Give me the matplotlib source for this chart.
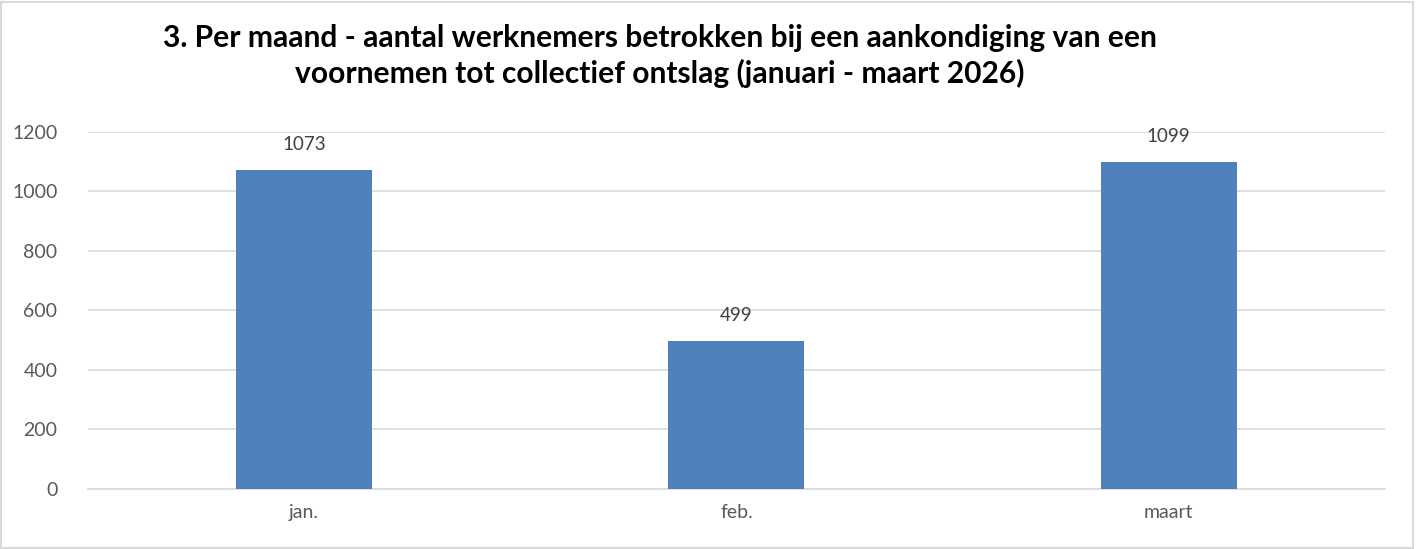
import matplotlib.pyplot as plt
from matplotlib.patches import Rectangle

# data
maanden = ["jan.", "feb.", "maart"]
aantallen = [1073, 499, 1099]
y_ticks = [0, 200, 400, 600, 800, 1000, 1200]

plt.rcParams["font.family"] = ["Lato", "DejaVu Sans"]

fig = plt.figure(figsize=(14.16, 5.49), dpi=100)
ax = fig.add_axes([0.0621, 0.1093, 0.9159, 0.6503])

x = range(len(maanden))
bars = ax.bar(x, aantallen, width=0.315, color="#4F81BD", zorder=3)

for rect, val in zip(bars, aantallen):
    ax.annotate(str(val), (rect.get_x() + rect.get_width() / 2, val),
                xytext=(0, 12), textcoords="offset points",
                ha="center", va="bottom", fontsize=13.5, color="#404040")

ax.set_xlim(-0.5, len(maanden) - 0.5)
ax.set_ylim(0, 1200)
ax.set_yticks(y_ticks)
ax.set_xticks(list(x))
ax.set_xticklabels(maanden)
ax.tick_params(axis="both", length=0, labelsize=14, labelcolor="#595959")
ax.tick_params(axis="y", pad=22)
ax.tick_params(axis="x", pad=11)
ax.grid(axis="y", color="#D9D9D9", linewidth=1.2, zorder=0)
for s in ["top", "right", "left"]:
    ax.spines[s].set_visible(False)
ax.spines["bottom"].set_color("#D9D9D9")
ax.spines["bottom"].set_linewidth(1.2)

fig.text(0.466, 0.898, "3. Per maand - aantal werknemers betrokken bij een aankondiging van een\n"
         "voornemen tot collectief ontslag (januari - maart 2026)",
         ha="center", va="center", fontsize=21.6, fontweight="bold",
         linespacing=1.27, color="#000000")

# grey border round the chart area
fig.patches.append(Rectangle((0.001, 0.002), 0.997, 0.995, transform=fig.transFigure,
                             fill=False, edgecolor="#D9D9D9", linewidth=1.5))

plt.savefig("out.png", dpi=100)
